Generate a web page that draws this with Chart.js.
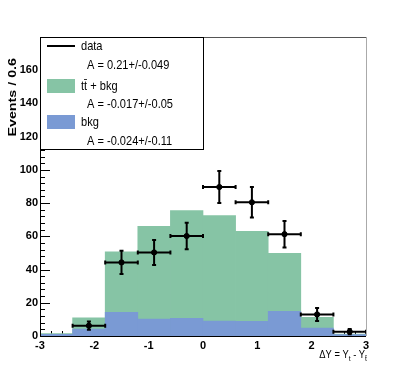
<!DOCTYPE html>
<html>
<head>
<meta charset="utf-8">
<script src="https://cdn.jsdelivr.net/npm/chart.js@4.4.0/dist/chart.umd.min.js"></script>
<style>
  html, body { margin: 0; padding: 0; background: #fff; }
</style>
</head>
<body>
<canvas id="asymChart" width="407" height="374"></canvas>
<script>
// histogram bins (width 0.6)
const binCenters = [-2.7, -2.1, -1.5, -0.9, -0.3, 0.3, 0.9, 1.5, 2.1, 2.7];
const ttbarPlusBkg = [1.5, 11, 50.6, 66, 75.5, 72.5, 63, 49.7, 11.2, 1.2];
const bkgValues = [1, 4.2, 14.2, 10.2, 10.6, 9, 8.8, 14.8, 4.8, 0.8];
const dataValues = [null, 6.2, 44.3, 50.3, 60.2, 89.7, 80.5, 61.3, 13, 2.6];
const dataErrors = [0, 2.5, 7, 7.5, 8, 9.6, 9.2, 8, 3.9, 1.6];
const binHalfWidth = 0.3;

const xTicks = [-3, -2, -1, 0, 1, 2, 3];
const yTicks = [0, 20, 40, 60, 80, 100, 120, 140, 160];

const GREEN = '#86c4a5';
const BLUE = '#7a9ad4';
const SANS = "'Liberation Sans', Arial, sans-serif";

const legendEntries = [
    { label: 't\u0074\u0304 + bkg', asym: 'A = -0.017+/-0.05', kind: 'box', color: GREEN },
    { label: 'bkg', asym: 'A = -0.024+/-0.11', kind: 'box', color: BLUE }
];
legendEntries.unshift({ label: 'data', asym: 'A = 0.21+/-0.049', kind: 'line' });

// draw text squeezed/stretched horizontally (ROOT fonts look condensed)
function scaledText(ctx, text, x, y, sx) {
    ctx.save();
    ctx.translate(x, y);
    ctx.scale(sx, 1);
    ctx.fillText(text, 0, 0);
    ctx.restore();
    return ctx.measureText(text).width * sx;
}

// ---------------------------------------------------------
// ROOT-like frame, ticks, error bars, legend and titles
// ---------------------------------------------------------
const rootStyle = {
    id: 'rootStyle',
    beforeDatasetsDraw(chart) {
        const { ctx, chartArea: a, scales: { x, y } } = chart;
        ctx.save();
        ctx.strokeStyle = '#000';
        ctx.lineWidth = 1;
        ctx.beginPath();
        // y ticks (inside)
        for (let v = 0; v <= 176; v += 4) {
            const py = Math.round(y.getPixelForValue(v)) + 0.5;
            const len = v % 20 === 0 ? 10 : 5;
            ctx.moveTo(a.left, py);
            ctx.lineTo(a.left + len, py);
        }
        // x ticks (inside)
        for (let i = 0; i <= 30; i++) {
            const v = -3 + i * 0.2;
            const px = Math.round(x.getPixelForValue(v)) + 0.5;
            const len = i % 5 === 0 ? 10 : 5;
            ctx.moveTo(px, a.bottom);
            ctx.lineTo(px, a.bottom - len);
        }
        ctx.stroke();
        ctx.restore();
    },
    afterDatasetsDraw(chart) {
        const { ctx, chartArea: a, scales: { x, y } } = chart;
        ctx.save();

        // error bars
        ctx.strokeStyle = '#000';
        ctx.lineWidth = 2;
        ctx.beginPath();
        binCenters.forEach((c, i) => {
            if (dataValues[i] === null) return;
            const px = x.getPixelForValue(c);
            const py = y.getPixelForValue(dataValues[i]);
            const x0 = x.getPixelForValue(c - binHalfWidth);
            const x1 = x.getPixelForValue(c + binHalfWidth);
            const y0 = y.getPixelForValue(dataValues[i] - dataErrors[i]);
            const y1 = y.getPixelForValue(dataValues[i] + dataErrors[i]);
            ctx.moveTo(x0, py); ctx.lineTo(x1, py);
            ctx.moveTo(x0, py - 2); ctx.lineTo(x0, py + 2);
            ctx.moveTo(x1, py - 2); ctx.lineTo(x1, py + 2);
            if (dataErrors[i] > 0) {
                ctx.moveTo(px, y0); ctx.lineTo(px, y1);
                ctx.moveTo(px - 2, y0); ctx.lineTo(px + 2, y0);
                ctx.moveTo(px - 2, y1); ctx.lineTo(px + 2, y1);
            }
        });
        ctx.stroke();

        // frame
        ctx.lineWidth = 1;
        ctx.strokeStyle = '#555';
        ctx.beginPath();
        ctx.moveTo(a.left, a.top + 0.5); ctx.lineTo(a.right, a.top + 0.5);
        ctx.stroke();
        ctx.strokeStyle = '#aaa';
        ctx.beginPath();
        ctx.moveTo(a.right + 0.5, a.top); ctx.lineTo(a.right + 0.5, a.bottom);
        ctx.stroke();
        ctx.strokeStyle = '#000';
        ctx.beginPath();
        ctx.moveTo(a.left + 0.5, a.top); ctx.lineTo(a.left + 0.5, a.bottom + 0.5);
        ctx.lineTo(a.right, a.bottom + 0.5);
        ctx.stroke();
        ctx.restore();
    },
    afterDraw(chart) {
        const { ctx, chartArea: a } = chart;
        ctx.save();

        // legend box
        const lx = a.left + 0.5, ly = a.top + 0.5, lw = 163, lh = 112;
        ctx.fillStyle = '#fff';
        ctx.fillRect(lx, ly, lw, lh);
        ctx.strokeStyle = '#000';
        ctx.lineWidth = 1;
        ctx.strokeRect(lx, ly, lw, lh);

        ctx.font = '13px ' + SANS;
        ctx.textBaseline = 'middle';
        ctx.textAlign = 'left';
        ctx.fillStyle = '#000';
        const rowY = [46, 86, 122];
        const asymY = [65, 104, 141];
        legendEntries.forEach((e, i) => {
            if (e.kind === 'line') {
                ctx.lineWidth = 2;
                ctx.beginPath();
                ctx.moveTo(47, rowY[i]); ctx.lineTo(75, rowY[i]);
                ctx.stroke();
            } else {
                ctx.fillStyle = e.color;
                ctx.fillRect(47, rowY[i] - 7, 28, 14);
                ctx.fillStyle = '#000';
            }
            scaledText(ctx, e.label, 81, rowY[i], 0.85);
            scaledText(ctx, e.asym, 87, asymY[i], 0.85);
        });

        // y axis title
        ctx.save();
        ctx.translate(13, 58);
        ctx.rotate(-Math.PI / 2);
        ctx.font = 'bold 10.5px ' + SANS;
        ctx.textAlign = 'right';
        ctx.textBaseline = 'middle';
        scaledText(ctx, 'Events / 0.6', 0, 0, 1.36);
        ctx.restore();

        // x axis title: ΔY = Y_t - Y_tbar (right aligned at frame edge)
        const base = 358;
        const big = '11px ' + SANS, small = '8px ' + SANS;
        const sx = 0.85;
        const parts = [
            ['\u0394Y = Y', big, 0], ['t', small, 3], [' - Y', big, 0], ['t\u0304', small, 3]
        ];
        let total = 0;
        parts.forEach(p => { ctx.font = p[1]; total += ctx.measureText(p[0]).width * sx; });
        let cx = a.right + 1 - total;
        ctx.textBaseline = 'alphabetic';
        ctx.textAlign = 'left';
        parts.forEach(p => {
            ctx.font = p[1];
            cx += scaledText(ctx, p[0], cx, base + p[2], sx);
        });
        ctx.restore();
    }
};

const toPoints = values => binCenters.map((c, i) => ({ x: c, y: values[i] }));

new Chart(document.getElementById('asymChart'), {
    type: 'bar',
    data: {
        datasets: [
            {
                type: 'scatter',
                label: 'data',
                data: toPoints(dataValues).filter(p => p.y !== null),
                backgroundColor: '#000',
                borderColor: '#000',
                pointRadius: 2.6,
                order: 0
            },
            {
                label: 'bkg',
                data: toPoints(bkgValues),
                backgroundColor: BLUE,
                grouped: false,
                barPercentage: 1,
                categoryPercentage: 1,
                borderWidth: 0,
                order: 1
            },
            {
                label: 'tt + bkg',
                data: toPoints(ttbarPlusBkg),
                backgroundColor: GREEN,
                grouped: false,
                barPercentage: 1,
                categoryPercentage: 1,
                borderWidth: 0,
                order: 2
            }
        ]
    },
    options: {
        responsive: false,
        animation: false,
        layout: { padding: { left: 0, top: 37, right: 41, bottom: 0 } },
        plugins: {
            legend: { display: false },
            tooltip: { enabled: false }
        },
        scales: {
            x: {
                type: 'linear',
                min: -3,
                max: 3,
                offset: false,
                grid: { display: false, drawTicks: false },
                border: { display: false },
                afterBuildTicks: s => { s.ticks = xTicks.map(v => ({ value: v })); },
                afterFit: s => { s.height = 38; },
                ticks: {
                    padding: 3,
                    maxRotation: 0,
                    autoSkip: false,
                    color: '#000',
                    font: { family: SANS, size: 11, weight: 'bold' }
                }
            },
            y: {
                min: 0,
                max: 180,
                grid: { display: false, drawTicks: false },
                border: { display: false },
                afterBuildTicks: s => { s.ticks = yTicks.map(v => ({ value: v })); },
                afterFit: s => { s.width = 40; },
                ticks: {
                    padding: 2,
                    autoSkip: false,
                    color: '#000',
                    font: { family: SANS, size: 11, weight: 'bold' }
                }
            }
        }
    },
    plugins: [rootStyle]
});
</script>
</body>
</html>
